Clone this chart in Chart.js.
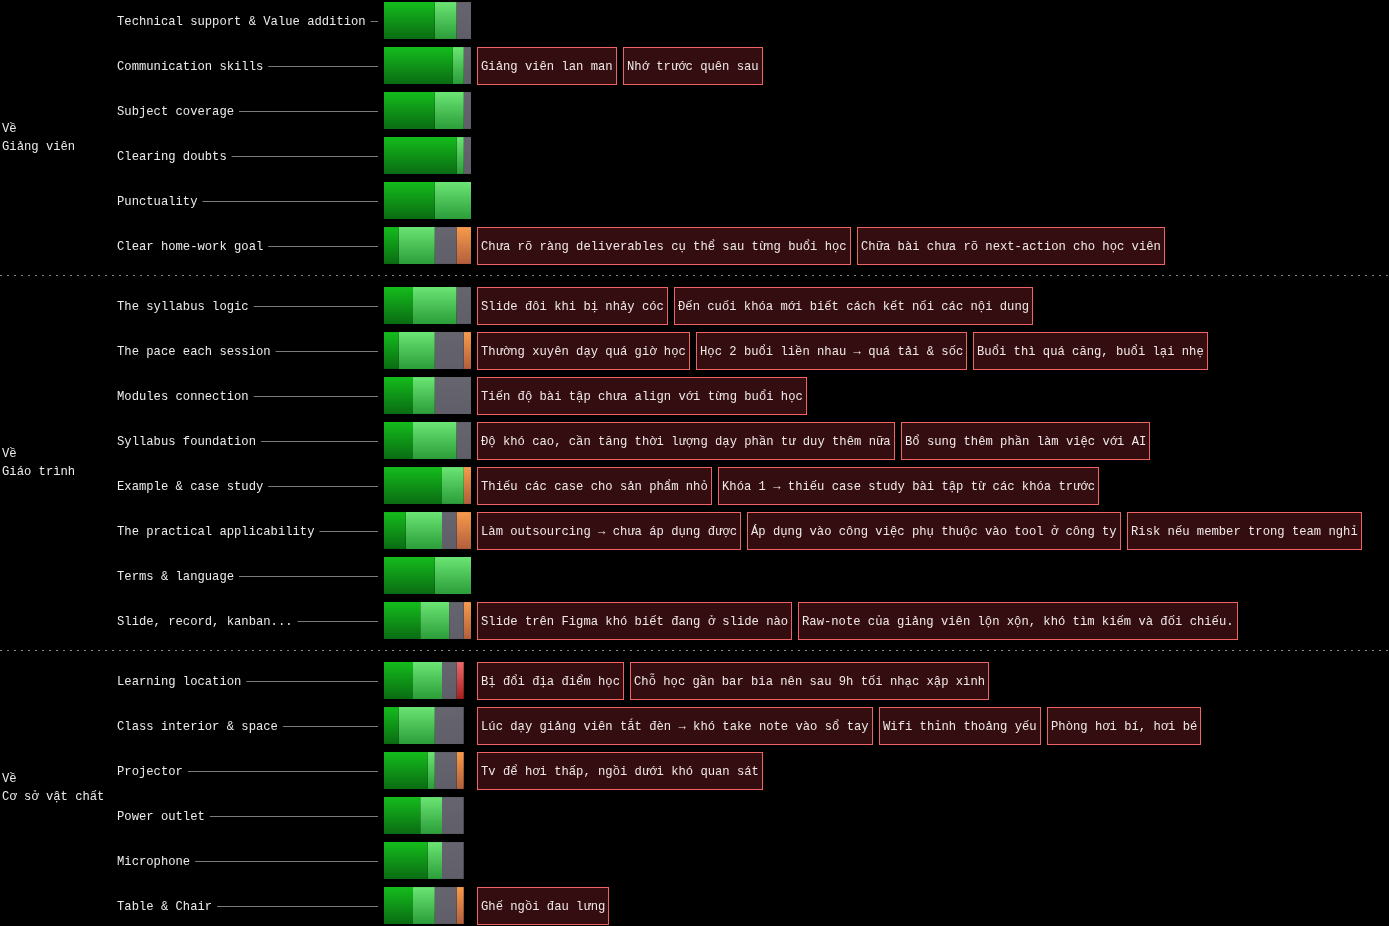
<!DOCTYPE html>
<html>
<head>
<meta charset="utf-8">
<script src="https://cdn.jsdelivr.net/npm/chart.js@4.4.1/dist/chart.umd.min.js"></script>
<style>
    html, body { margin: 0; padding: 0; background: #000; width: 1389px; height: 926px; overflow: hidden; }
    .sec { position: absolute; left: 0; width: 1389px; }
    .sep { position: absolute; left: 0; width: 1389px; height: 1px;
           background: repeating-linear-gradient(to right, #8a8a8a 0 2px, transparent 2px 7px); }
</style>
</head>
<body>
<div class="sec" style="top:-2px;height:270px"><canvas id="lecturer"></canvas></div>
<div class="sep" style="top:275px"></div>
<div class="sec" style="top:283px;height:360px"><canvas id="syllabus"></canvas></div>
<div class="sep" style="top:650px"></div>
<div class="sec" style="top:658px;height:270px"><canvas id="facility"></canvas></div>
<script>
// answer levels, left to right
const levels = ['Rất tốt', 'Tốt', 'Bình thường', 'Chưa tốt', 'Kém'];
const maxCount = 24;

// Về Giảng viên
const lecturerItems = ['Technical support & Value addition', 'Communication skills', 'Subject coverage',
    'Clearing doubts', 'Punctuality', 'Clear home-work goal'];
const lecturerScores = [
    [14, 6, 4, 0, 0],
    [19, 3, 2, 0, 0],
    [14, 8, 2, 0, 0],
    [20, 2, 2, 0, 0],
    [14, 10, 0, 0, 0],
    [4, 10, 6, 4, 0],
];
const lecturerNotes = [
    [],
    ['Giảng viên lan man', 'Nhớ trước quên sau'],
    [],
    [],
    [],
    ['Chưa rõ ràng deliverables cụ thể sau từng buổi học', 'Chữa bài chưa rõ next-action cho học viên'],
];

// Về Giáo trình
const syllabusItems = ['The syllabus logic', 'The pace each session', 'Modules connection', 'Syllabus foundation',
    'Example & case study', 'The practical applicability', 'Terms & language', 'Slide, record, kanban...'];
const syllabusScores = [
    [8, 12, 4, 0, 0],
    [4, 10, 8, 2, 0],
    [8, 6, 10, 0, 0],
    [8, 12, 4, 0, 0],
    [16, 6, 0, 2, 0],
    [6, 10, 4, 4, 0],
    [14, 10, 0, 0, 0],
    [10, 8, 4, 2, 0],
];
const syllabusNotes = [
    ['Slide đôi khi bị nhảy cóc', 'Đến cuối khóa mới biết cách kết nối các nội dung'],
    ['Thường xuyên dạy quá giờ học', 'Học 2 buổi liền nhau → quá tải & sốc', 'Buổi thì quá căng, buổi lại nhẹ'],
    ['Tiến độ bài tập chưa align với từng buổi học'],
    ['Độ khó cao, cần tăng thời lượng dạy phần tư duy thêm nữa', 'Bổ sung thêm phần làm việc với AI'],
    ['Thiếu các case cho sản phẩm nhỏ', 'Khóa 1 → thiếu case study bài tập từ các khóa trước'],
    ['Làm outsourcing → chưa áp dụng được', 'Áp dụng vào công việc phụ thuộc vào tool ở công ty', 'Risk nếu member trong team nghỉ'],
    [],
    ['Slide trên Figma khó biết đang ở slide nào', 'Raw-note của giảng viên lộn xộn, khó tìm kiếm và đối chiếu.'],
];

// Về Cơ sở vật chất
const facilityItems = ['Learning location', 'Class interior & space', 'Projector', 'Power outlet', 'Microphone', 'Table & Chair'];
const facilityScores = [
    [8, 8, 4, 0, 2],
    [4, 10, 8, 0, 0],
    [12, 2, 6, 2, 0],
    [10, 6, 6, 0, 0],
    [12, 4, 6, 0, 0],
    [8, 6, 6, 2, 0],
];
const facilityNotes = [
    ['Bị đổi địa điểm học', 'Chỗ học gần bar bia nên sau 9h tối nhạc xập xình'],
    ['Lúc dạy giảng viên tắt đèn → khó take note vào sổ tay', 'Wifi thỉnh thoảng yếu', 'Phòng hơi bí, hơi bé'],
    ['Tv để hơi thấp, ngồi dưới khó quan sát'],
    [],
    [],
    ['Ghế ngồi đau lưng'],
];

const FONT = '12.2px "Liberation Mono", monospace';
const shades = [
    ['#14bb1c', '#0a6d13'],
    ['#6ae473', '#2c9e3a'],
    ['#65646f', '#5f5e69'],
    ['#f69a4c', '#b35f3c'],
    ['#e86a6a', '#a8201f'],
];

function shade(k) {
    return function(c) {
        if (c.type !== 'data' || !c.chart.chartArea) return shades[k][0];
        const y = c.chart.scales.y;
        const mid = y ? y.getPixelForValue(c.dataIndex) : NaN;
        if (!isFinite(mid)) return shades[k][0];
        const g = c.chart.ctx.createLinearGradient(0, mid - 18, 0, mid + 18);
        g.addColorStop(0, shades[k][0]);
        g.addColorStop(1, shades[k][1]);
        return g;
    };
}

const nfc = s => s.normalize('NFC');

const labelsPlugin = {
    id: 'rowLabels',
    afterDraw(chart, args, opts) {
        const ctx = chart.ctx;
        const y = chart.scales.y;
        const x = chart.scales.x;
        ctx.save();
        ctx.font = FONT;
        ctx.textBaseline = 'middle';

        // group title
        ctx.fillStyle = '#ececec';
        ctx.textAlign = 'left';
        const lines = nfc(opts.group).split('\n');
        lines.forEach((t, i) => ctx.fillText(t, 2, opts.groupY + (i - (lines.length - 1) / 2) * 18));

        chart.data.labels.forEach((label, i) => {
            const yc = Math.round(y.getPixelForValue(i));
            ctx.fillStyle = '#ececec';
            ctx.fillText(label, 117, yc + 1);
            const w = ctx.measureText(label).width;
            ctx.strokeStyle = '#7a7a7a';
            ctx.lineWidth = 1;
            ctx.beginPath();
            ctx.moveTo(117 + w + 5, yc + 0.5);
            ctx.lineTo(378, yc + 0.5);
            ctx.stroke();

            // comment boxes
            let bx = Math.round(x.getPixelForValue(maxCount)) + 6;
            opts.notes[i].forEach(raw => {
                const note = nfc(raw);
                const bw = Math.round(ctx.measureText(note).width + 8);
                ctx.fillStyle = '#330d10';
                ctx.fillRect(bx, yc - 19, bw, 38);
                ctx.strokeStyle = '#ef6363';
                ctx.strokeRect(bx + 0.5, yc - 18.5, bw - 1, 37);
                ctx.fillStyle = '#f0e8e8';
                ctx.fillText(note, bx + 4, yc + 1);
                bx += bw + 6;
            });
        });
        ctx.restore();
    }
};

function makeChart(id, items, scores, notes, group, groupY) {
    return new Chart(document.getElementById(id), {
        type: 'bar',
        data: {
            labels: items,
            datasets: levels.map((name, k) => ({
                label: name,
                data: scores.map(r => r[k]),
                backgroundColor: shade(k),
                borderWidth: 0,
                categoryPercentage: 1,
                barPercentage: 0.82,
            }))
        },
        options: {
            indexAxis: 'y',
            responsive: true,
            maintainAspectRatio: false,
            animation: false,
            layout: { padding: { left: 384, right: 1389 - 471, top: 0, bottom: 0 } },
            scales: {
                x: { stacked: true, min: 0, max: maxCount, display: false },
                y: { stacked: true, display: false }
            },
            plugins: {
                legend: { display: false },
                tooltip: { enabled: false },
                rowLabels: { notes: notes, group: group, groupY: groupY }
            }
        },
        plugins: [labelsPlugin]
    });
}

makeChart('lecturer', lecturerItems, lecturerScores, lecturerNotes, 'Về\nGiảng viên', 140);
makeChart('syllabus', syllabusItems, syllabusScores, syllabusNotes, 'Về\nGiáo trình', 179.5);
makeChart('facility', facilityItems, facilityScores, facilityNotes, 'Về\nCơ sở vật chất', 130);
</script>
</body>
</html>
